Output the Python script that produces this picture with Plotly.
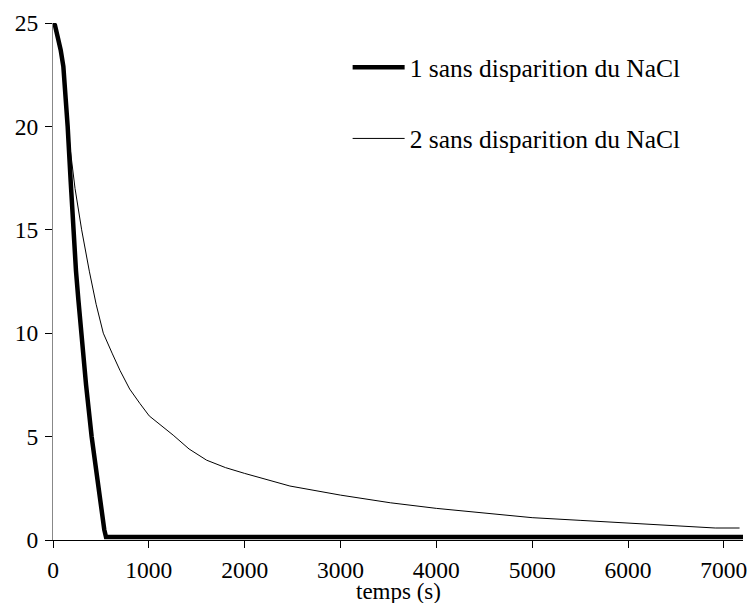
import plotly.graph_objects as go

# Series 1 (thick): sans disparition du NaCl (1)
t1 = [0, 20, 55, 80, 108, 130, 153, 185, 212, 240, 265, 295, 345, 403, 470, 535, 553, 7200]
y1 = [25, 24.9, 24.2, 23.7, 22.9, 21.6, 20.0, 17.3, 15.0, 13.0, 11.6, 10.0, 7.5, 5.0, 2.6, 0.5, 0.15, 0.15]

# Series 2 (thin): sans disparition du NaCl (2)
t2 = [0, 20, 55, 80, 108, 130, 153, 177, 230, 299, 379, 450, 525, 575, 620, 699, 800, 907, 1004,
      1254, 1420, 1603, 1800, 2000, 2472, 3000, 3520, 4000, 4500, 5000, 5500, 6000,
      6400, 6712, 6910, 7164]
y2 = [25, 24.9, 24.2, 23.7, 22.9, 21.6, 20.0, 19.0, 17.0, 15.0, 13.0, 11.4, 10.0, 9.45, 9.0, 8.2, 7.3, 6.6, 6.0,
      5.07, 4.4, 3.86, 3.5, 3.22, 2.61, 2.17, 1.80, 1.53, 1.30, 1.08, 0.95, 0.81,
      0.72, 0.63, 0.58, 0.58]

x_ticks = [0, 1000, 2000, 3000, 4000, 5000, 6000, 7000]
y_ticks = [0, 5, 10, 15, 20, 25]

FONT = "Liberation Serif"

fig = go.Figure()
fig.add_trace(go.Scatter(x=t1, y=y1, mode="lines", name="1 sans disparition du NaCl",
                         line=dict(color="black", width=4.5), legendgroup="a"))
fig.add_trace(go.Scatter(x=t2, y=y2, mode="lines", name="2 sans disparition du NaCl",
                         line=dict(color="black", width=1), legendgroup="b"))

tf = dict(family=FONT, size=23.5, color="black")

fig.update_layout(
    width=750, height=603,
    margin=dict(l=53, r=7, t=23, b=63, autoexpand=False),
    paper_bgcolor="white", plot_bgcolor="white",
    font=dict(family=FONT, color="black", size=23.5),
    showlegend=True,
    legend=dict(x=0.427, y=0.959, xanchor="left", yanchor="top",
                font=dict(family=FONT, size=25.5, color="black"),
                itemwidth=52, tracegroupgap=35, bgcolor="rgba(0,0,0,0)"),
    xaxis=dict(range=[0, 7200], tickvals=x_ticks, ticks="outside", ticklen=7,
               tickcolor="black", showline=True, linecolor="black", linewidth=1,
               showgrid=False, zeroline=False, tickfont=tf, automargin=False,
               ticklabelstandoff=2),
    yaxis=dict(range=[0, 25], tickvals=y_ticks, ticks="outside", ticklen=7,
               tickcolor="black", showline=True, linecolor="#888888", linewidth=1,
               showgrid=False, zeroline=False, tickfont=tf, automargin=False,
               ticklabelstandoff=2),
    annotations=[dict(text="temps (s)", xref="paper", yref="paper", x=0.5, y=0,
                      xanchor="center", yanchor="top", yshift=-38, borderpad=0,
                      showarrow=False,
                      font=dict(family=FONT, size=23, color="black"))],
)

fig.write_html("out.html", config={"displayModeBar": False},
               post_script="document.body.style.margin='0';document.body.style.overflow='hidden';")
